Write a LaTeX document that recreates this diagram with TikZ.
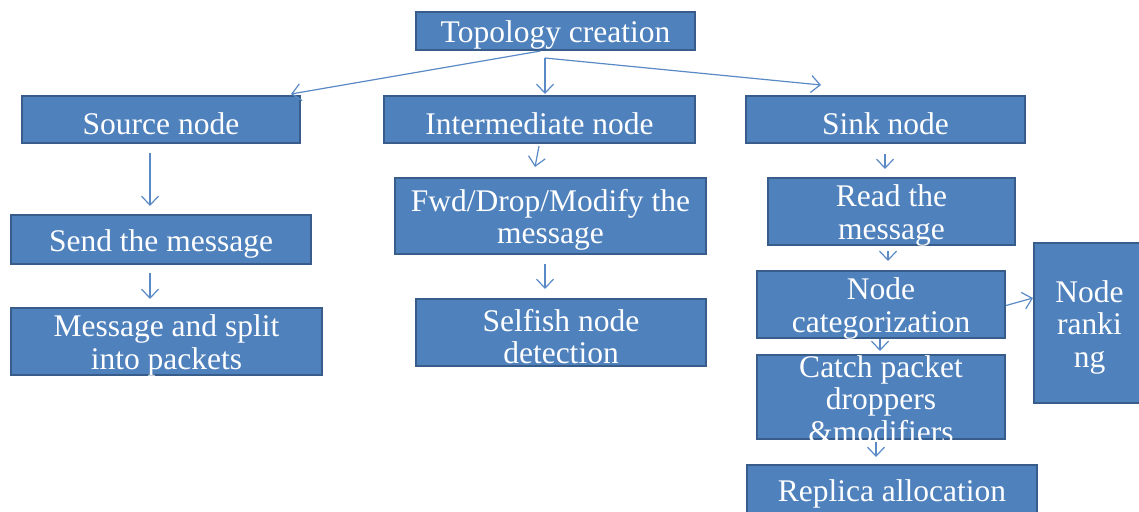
\documentclass[tikz,border=0pt]{standalone}
\usepackage{fontspec}
\setmainfont{Liberation Serif}
\usetikzlibrary{arrows.meta}
\definecolor{boxfill}{HTML}{4F81BD}
\definecolor{boxedge}{HTML}{385D8A}
\definecolor{arrowblue}{HTML}{5A8AC6}
\tikzset{
  stepbox/.style={rectangle, draw=boxedge, fill=boxfill, line width=2pt,
    inner sep=0pt},
  boxtext/.style={text=white, inner sep=0pt, align=center, yshift=-4pt,
    font=\fontsize{31.5}{32.5}\selectfont},
  flow/.style={draw=arrowblue, line width=1.2pt,
    -{Straight Barb[length=9pt,width=17pt,line width=1.2pt]}},
}
\begin{document}
\begin{tikzpicture}[x=1pt,y=-1pt]
\useasboundingbox (0,0) rectangle (1139,511);

% first level
\node[stepbox, minimum width=279, minimum height=38,
  label={[boxtext]center:Topology creation}] (top) at (555.5,31) {};

% second level
\node[stepbox, minimum width=278, minimum height=47,
  label={[boxtext]center:Source node}] (src) at (161,119.5) {};
\node[stepbox, minimum width=311, minimum height=47,
  label={[boxtext]center:Intermediate node}] (mid) at (539.5,119.5) {};
\node[stepbox, minimum width=279, minimum height=47,
  label={[boxtext]center:Sink node}] (sink) at (885.5,119.5) {};

% source branch
\node[stepbox, minimum width=300, minimum height=49,
  label={[boxtext]center:Send the message}] (send) at (161,239.5) {};
\node[stepbox, minimum width=311, minimum height=67,
  label={[boxtext]center:Message and split\\into packets}] (split) at (166.5,341.5) {};

% intermediate branch
\node[stepbox, minimum width=311, minimum height=76,
  label={[boxtext]center:Fwd/Drop/Modify the\\message}] (fwd) at (550.5,216) {};
\node[stepbox, minimum width=290, minimum height=67,
  label={[boxtext]center:Selfish node\\detection}] (selfish) at (561,332.5) {};

% sink branch
\node[stepbox, minimum width=247, minimum height=67,
  label={[boxtext]center:Read the\\message}] (read) at (891.5,211.5) {};
\node[stepbox, minimum width=248, minimum height=67,
  label={[boxtext]center:Node\\categorization}] (cat) at (881,304.5) {};
\node[stepbox, minimum width=111, minimum height=160,
  label={[boxtext]center:Node\\ranki\\ng}] (rank) at (1089.5,323) {};
\node[stepbox, minimum width=248, minimum height=84,
  label={[boxtext, yshift=2pt]center:Catch packet\\droppers\\\&modifiers}] (catch) at (881,397) {};
\node[stepbox, minimum width=290, minimum height=50,
  label={[boxtext]center:Replica allocation}] (replica) at (892,490) {};

% connectors from the top
\coordinate (fork) at (545,58);
\draw[flow] ([xshift=-15pt]top.south) -- ([xshift=-10pt,yshift=1pt]src.north east);
\draw[flow] (fork) -- ([xshift=5.5pt,yshift=1pt]mid.north);
\draw[flow] (fork) -- ([xshift=-64.5pt,yshift=10pt]sink.north);

% source branch connectors
\draw[flow] ([xshift=-11pt,yshift=-9pt]src.south) -- ([xshift=-11pt,yshift=8pt]send.north);
\draw[flow] ([xshift=-11pt,yshift=-8pt]send.south) -- ([xshift=-16.5pt,yshift=8pt]split.north);

% intermediate branch connectors
\draw[flow] ([xshift=-0.5pt,yshift=-2pt]mid.south) -- ([xshift=-15.5pt,yshift=10pt]fwd.north);
\draw[flow] ([xshift=-5.5pt,yshift=-9pt]fwd.south) -- ([xshift=-16pt,yshift=9pt]selfish.north);

% sink branch connectors
\draw[flow] ([xshift=-0.5pt,yshift=-10pt]sink.south) -- ([xshift=-6.5pt,yshift=8pt]read.north);
\draw[flow] ([xshift=-3.5pt,yshift=-5pt]read.south) -- ([xshift=7pt,yshift=9pt]cat.north);
\draw[flow] ([yshift=-1pt]cat.east) -- ([yshift=25pt]rank.west);
\draw[flow] ([xshift=-1pt]cat.south) -- ([xshift=-1pt,yshift=3pt]catch.north);
\draw[flow] ([xshift=-5pt,yshift=-2pt]catch.south) -- ([xshift=-16pt,yshift=7pt]replica.north);
\end{tikzpicture}
\end{document}
